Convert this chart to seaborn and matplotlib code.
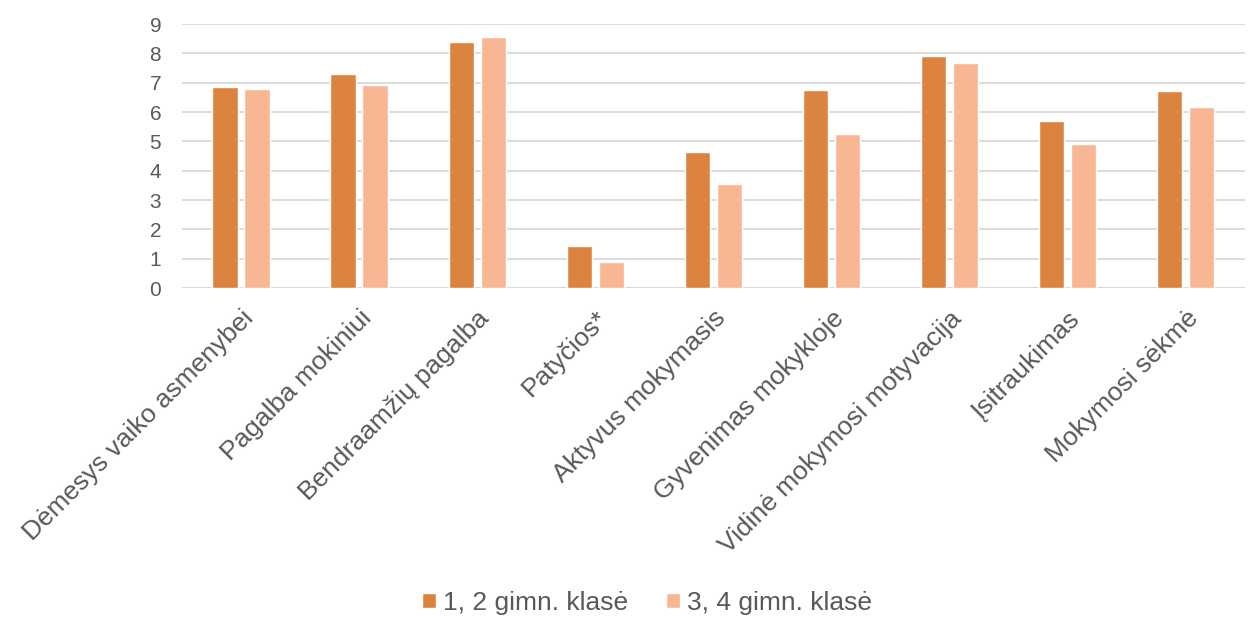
import pandas as pd
import matplotlib
matplotlib.use('Agg')
import matplotlib.pyplot as plt
import seaborn as sns

# categories and values
categories = ['Dėmesys vaiko asmenybei', 'Pagalba mokiniui', 'Bendraamžių pagalba',
              'Patyčios*', 'Aktyvus mokymasis', 'Gyvenimas mokykloje',
              'Vidinė mokymosi motyvacija', 'Įsitraukimas', 'Mokymosi sėkmė']
series_names = ['1, 2 gimn. klasė', '3, 4 gimn. klasė']
values_12 = [6.86, 7.29, 8.40, 1.43, 4.65, 6.75, 7.91, 5.71, 6.72]
values_34 = [6.79, 6.91, 8.56, 0.89, 3.55, 5.26, 7.69, 4.91, 6.16]
colors = ['#DC843F', '#F8B692']
yticks = list(range(0, 10))

df = pd.DataFrame({
    'Kategorija': categories * 2,
    'Grupe': [series_names[0]] * len(categories) + [series_names[1]] * len(categories),
    'Reiksme': values_12 + values_34,
})

sns.set_style('white')
plt.rcParams['font.family'] = ['Liberation Sans', 'DejaVu Sans']
text_color = '#595959'

fig = plt.figure(figsize=(12.49, 6.17), dpi=100)
ax = fig.add_axes([0.1457, 0.533, 0.851, 0.428])

sns.barplot(data=df, x='Kategorija', y='Reiksme', hue='Grupe', order=categories,
            hue_order=series_names, palette=colors, width=0.542, gap=0.21,
            saturation=1, ax=ax, legend=True)

ax.set_ylim(0, 9)
ax.set_xlim(-0.5, len(categories) - 0.5)
ax.set_yticks(yticks)
ax.yaxis.grid(True, color='#D9D9D9', linewidth=1.3)
ax.set_axisbelow(True)
for side in ['top', 'right', 'left', 'bottom']:
    ax.spines[side].set_visible(False)
ax.axhline(0, color='#D9D9D9', linewidth=1.3, zorder=0)
ax.set_xlabel('')
ax.set_ylabel('')
ax.tick_params(axis='both', length=0, colors=text_color)
ax.tick_params(axis='y', labelsize=15, pad=15)
ax.tick_params(axis='x', labelsize=19, pad=13)
plt.setp(ax.get_xticklabels(), rotation=45, ha='right', rotation_mode='anchor')

handles, labels = ax.get_legend_handles_labels()
ax.get_legend().remove()
fig.legend(handles, labels, loc='center', bbox_to_anchor=(0.518, 0.023), ncol=2,
           frameon=False, fontsize=19, handlelength=0.53, handleheight=0.53,
           handletextpad=0.25, columnspacing=1.45, labelcolor=text_color)

fig.savefig('out.png', dpi=100)
